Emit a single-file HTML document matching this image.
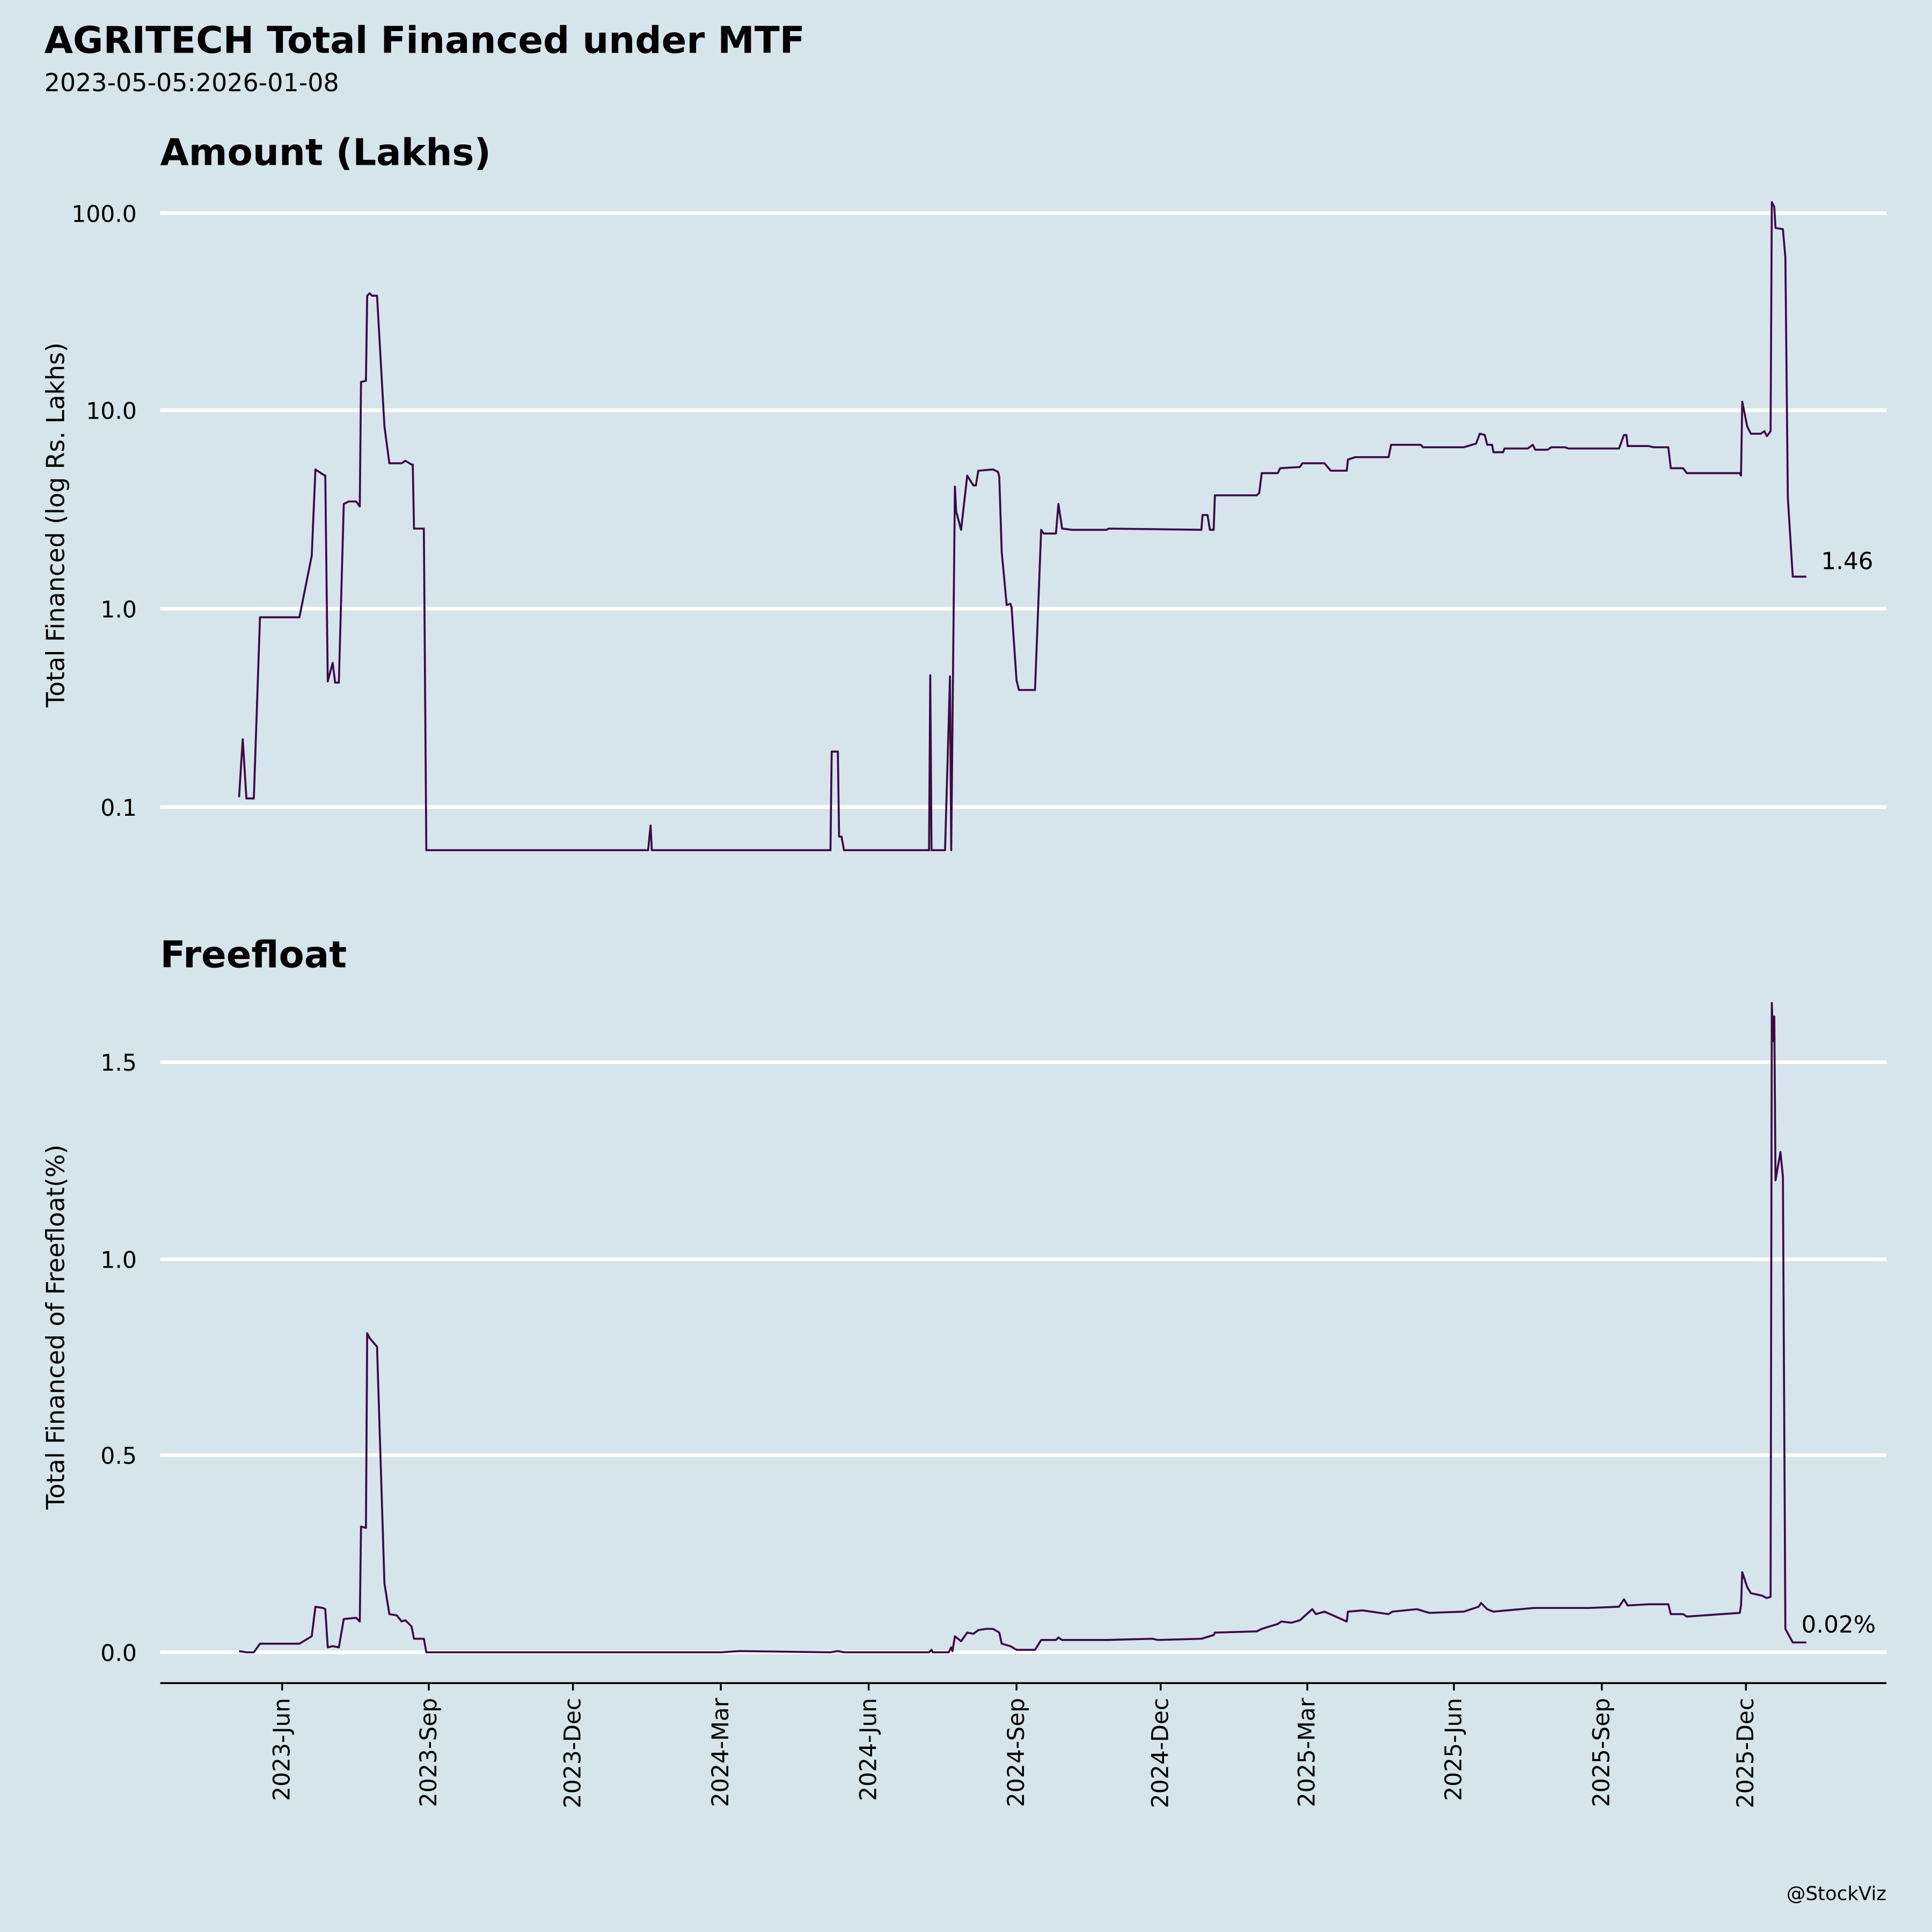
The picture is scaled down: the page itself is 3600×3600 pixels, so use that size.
<!DOCTYPE html>
<html><head><meta charset="utf-8"><style>
html,body{margin:0;padding:0;background:#d6e4eb;}
svg{display:block;}
text{font-family:"DejaVu Sans","Liberation Sans",sans-serif;fill:#000;}
</style></head><body>
<svg width="3600" height="3600" viewBox="0 0 1568 1568" xmlns="http://www.w3.org/2000/svg">
<rect width="1568" height="1568" fill="#d6e4eb"/>
<text x="36" y="43" font-size="30" font-weight="bold">AGRITECH Total Financed under MTF</text>
<text x="36" y="74" font-size="20">2023-05-05:2026-01-08</text>
<text x="130" y="134" font-size="30" font-weight="bold">Amount (Lakhs)</text>
<g stroke="#fff" stroke-width="3">
<line x1="130" x2="1531" y1="173" y2="173"/><line x1="130" x2="1531" y1="333" y2="333"/>
<line x1="130" x2="1531" y1="494" y2="494"/><line x1="130" x2="1531" y1="655" y2="655"/>
<line x1="130" x2="1531" y1="862" y2="862"/><line x1="130" x2="1531" y1="1022" y2="1022"/>
<line x1="130" x2="1531" y1="1181" y2="1181"/><line x1="130" x2="1531" y1="1341" y2="1341"/>
</g>
<g font-size="18.5" text-anchor="end">
<text x="111" y="180">100.0</text><text x="111" y="340">10.0</text><text x="111" y="501">1.0</text><text x="111" y="662">0.1</text>
<text x="111" y="869">1.5</text><text x="111" y="1029">1.0</text><text x="111" y="1188">0.5</text><text x="111" y="1348">0.0</text>
</g>
<text transform="translate(52,426) rotate(-90)" font-size="20" text-anchor="middle">Total Financed (log Rs. Lakhs)</text>
<text transform="translate(52,1077) rotate(-90)" font-size="20" text-anchor="middle">Total Financed of Freefloat(%)</text>
<text x="130" y="785" font-size="30" font-weight="bold">Freefloat</text>
<line x1="130" x2="1531" y1="1366" y2="1366" stroke="#000" stroke-width="1.5"/>
<g stroke="#000" stroke-width="1.5">
<line x1="229" x2="229" y1="1366" y2="1372"/><line x1="348" x2="348" y1="1366" y2="1372"/><line x1="465" x2="465" y1="1366" y2="1372"/><line x1="585" x2="585" y1="1366" y2="1372"/><line x1="705" x2="705" y1="1366" y2="1372"/><line x1="825" x2="825" y1="1366" y2="1372"/><line x1="942" x2="942" y1="1366" y2="1372"/><line x1="1061" x2="1061" y1="1366" y2="1372"/><line x1="1180" x2="1180" y1="1366" y2="1372"/><line x1="1300" x2="1300" y1="1366" y2="1372"/><line x1="1417" x2="1417" y1="1366" y2="1372"/>
</g>
<g font-size="18.5" text-anchor="end">
<text transform="translate(235,1378) rotate(-90)">2023-Jun</text>
<text transform="translate(354,1378) rotate(-90)">2023-Sep</text>
<text transform="translate(471,1378) rotate(-90)">2023-Dec</text>
<text transform="translate(591,1378) rotate(-90)">2024-Mar</text>
<text transform="translate(711,1378) rotate(-90)">2024-Jun</text>
<text transform="translate(831,1378) rotate(-90)">2024-Sep</text>
<text transform="translate(948,1378) rotate(-90)">2024-Dec</text>
<text transform="translate(1067,1378) rotate(-90)">2025-Mar</text>
<text transform="translate(1186,1378) rotate(-90)">2025-Jun</text>
<text transform="translate(1306,1378) rotate(-90)">2025-Sep</text>
<text transform="translate(1423,1378) rotate(-90)">2025-Dec</text>
</g>
<g fill="none" stroke="#3b0a45" stroke-width="1.6" stroke-linejoin="round">
<polyline points="194,647 197,600 200,648 206,648 211,501 243,501 253,451 256,381 262,385 264,386 266,553 270,538 272,554 275,554 279,409 283,407 289,407 292,411 293,310 297,309 298,240 300,238 302,240 306,240 312,346 316,376 326,376 329,374 334,377 335,377 336,429 344,429 346,690 526,690 528,670 529,690 674,690 675,610 680,610 681,679 683,679 685,690 754,690 755,548 756,690 767,690 771,549 772,690 775,395 776,415 780,430 785,386 790,394 792,394 794,382 806,381 810,383 811,387 813,448 817,491 820,490 821,493 825,552 827,560 840,560 845,430 847,433 857,433 859,409 862,429 870,430 898,430 900,429 975,430 976,418 980,418 982,430 985,430 986,402 1020,402 1022,400 1024,384 1037,384 1039,380 1055,379 1057,376 1075,376 1080,382 1093,382 1094,373 1100,371 1127,371 1129,361 1153,361 1155,363 1188,363 1198,360 1201,352 1205,353 1207,361 1211,361 1212,367 1220,367 1221,364 1240,364 1244,361 1246,365 1256,365 1259,363 1270,363 1273,364 1314,364 1318,353 1320,353 1321,362 1338,362 1342,363 1354,363 1356,380 1366,380 1369,384 1412,384 1413,386 1414,326 1418,346 1421,352 1429,352 1432,350 1434,354 1437,350 1438,164 1440,168 1441,185 1447,186 1449,209 1451,404 1455,468 1466,468"/>
<polyline points="194,1340 200,1341 206,1341 211,1334 243,1334 253,1328 256,1304 262,1305 264,1306 266,1337 270,1336 275,1337 279,1314 289,1313 292,1316 293,1239 297,1240 298,1082 300,1086 306,1093 312,1285 316,1310 322,1311 326,1316 329,1315 334,1320 336,1330 344,1330 346,1341 585,1341 600,1340 674,1341 680,1340 685,1341 754,1341 756,1339 757,1341 770,1341 772,1337 773,1340 775,1328 780,1332 785,1325 790,1326 794,1323 800,1322 806,1322 811,1325 813,1334 820,1336 825,1339 840,1339 845,1331 857,1331 859,1329 862,1331 898,1331 935,1330 940,1331 975,1330 985,1327 986,1325 1020,1324 1024,1322 1037,1318 1040,1316 1048,1317 1055,1315 1065,1306 1068,1310 1075,1308 1093,1316 1094,1308 1106,1307 1127,1310 1130,1308 1150,1306 1160,1309 1188,1308 1200,1304 1202,1301 1207,1306 1212,1308 1245,1305 1260,1305 1290,1305 1314,1304 1318,1298 1321,1303 1338,1302 1354,1302 1356,1310 1366,1310 1369,1312 1412,1309 1413,1303 1414,1276 1418,1288 1421,1293 1430,1295 1434,1297 1437,1296 1438,814 1439,845 1440,825 1441,958 1445,935 1447,955 1449,1322 1455,1333 1466,1333"/>
</g>
<text x="1478" y="462" font-size="19">1.46</text>
<text x="1462" y="1325" font-size="19">0.02%</text>
<text x="1531" y="1542" font-size="15.5" text-anchor="end">@StockViz</text>
</svg>
</body></html>
